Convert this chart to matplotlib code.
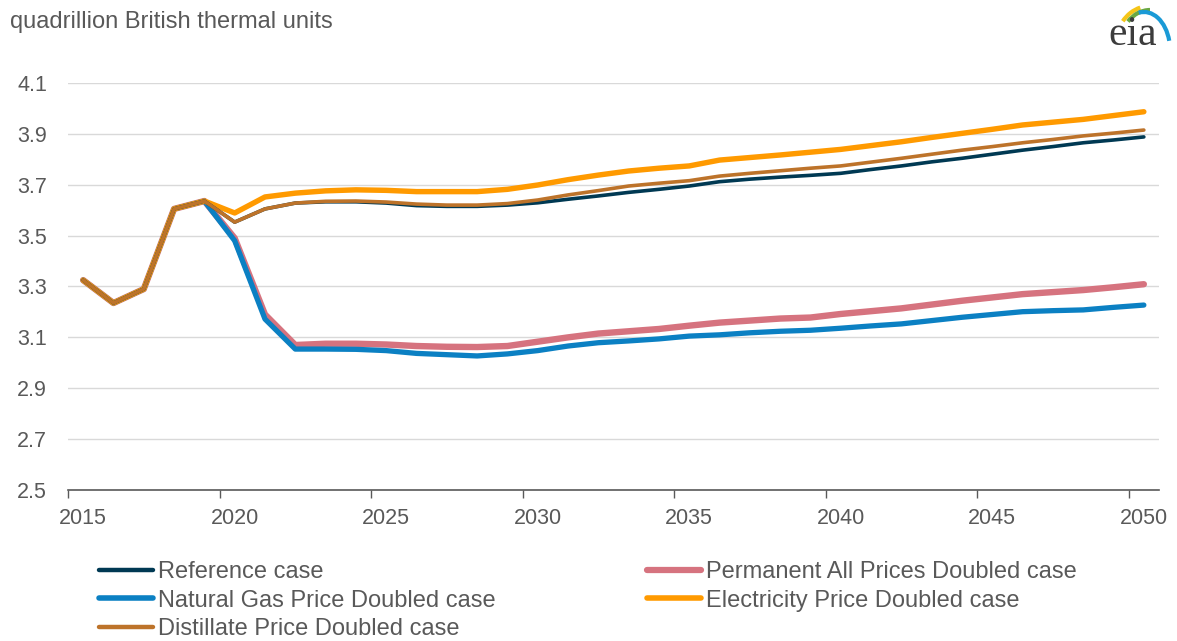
import matplotlib
matplotlib.use("Agg")
import matplotlib.pyplot as plt
from matplotlib.lines import Line2D
from matplotlib.patches import Arc
import numpy as np

plt.rcParams['font.family'] = ['Liberation Sans', 'DejaVu Sans']

years = list(range(2015, 2051))

reference = [3.325, 3.235, 3.29, 3.605, 3.636, 3.553, 3.605, 3.628, 3.633, 3.633,
             3.628, 3.618, 3.615, 3.615, 3.62, 3.629, 3.643, 3.656, 3.67, 3.682,
             3.695, 3.712, 3.722, 3.73, 3.737, 3.745, 3.76, 3.774, 3.79, 3.804,
             3.82, 3.836, 3.85, 3.865, 3.876, 3.888]
distillate = [3.325, 3.235, 3.29, 3.605, 3.636, 3.553, 3.605, 3.628, 3.635, 3.636,
              3.632, 3.624, 3.62, 3.62, 3.626, 3.64, 3.66, 3.677, 3.695, 3.706,
              3.716, 3.734, 3.745, 3.755, 3.765, 3.774, 3.789, 3.804, 3.82, 3.836,
              3.85, 3.865, 3.878, 3.892, 3.903, 3.915]
electricity = [3.325, 3.235, 3.29, 3.605, 3.636, 3.589, 3.652, 3.667, 3.676, 3.68,
               3.678, 3.673, 3.673, 3.673, 3.682, 3.699, 3.72, 3.738, 3.754, 3.765,
               3.774, 3.797, 3.807, 3.817, 3.828, 3.839, 3.854, 3.869, 3.886, 3.902,
               3.918, 3.935, 3.946, 3.957, 3.972, 3.987]
natural_gas = [3.325, 3.235, 3.29, 3.605, 3.636, 3.48, 3.172, 3.054, 3.054, 3.053,
               3.048, 3.037, 3.032, 3.027, 3.035, 3.048, 3.066, 3.079, 3.086, 3.094,
               3.105, 3.11, 3.118, 3.124, 3.128, 3.136, 3.145, 3.153, 3.166, 3.179,
               3.19, 3.201, 3.205, 3.208, 3.218, 3.227]
all_doubled = [3.325, 3.235, 3.29, 3.605, 3.636, 3.49, 3.19, 3.07, 3.075, 3.075,
               3.072, 3.066, 3.063, 3.062, 3.066, 3.083, 3.1, 3.115, 3.124, 3.133,
               3.146, 3.158, 3.166, 3.174, 3.178, 3.192, 3.203, 3.214, 3.229, 3.244,
               3.257, 3.27, 3.278, 3.286, 3.297, 3.309]

y_ticks = [2.5, 2.7, 2.9, 3.1, 3.3, 3.5, 3.7, 3.9, 4.1]
x_labels = [2015, 2020, 2025, 2030, 2035, 2040, 2045, 2050]

c_ref = '#003953'
c_ng = '#0b80c3'
c_dist = '#bd732a'
c_elec = '#ff9a00'
c_all = '#d6737f'
grey = '#595959'

fig = plt.figure(figsize=(11.77, 6.41), dpi=100)
ax = fig.add_axes([68 / 1177, 1 - 490 / 641, (1159 - 68) / 1177, (490 - 83) / 641])

ax.plot(years, all_doubled, color=c_all, lw=4.6, solid_capstyle='round', zorder=3)
ax.plot(years, natural_gas, color=c_ng, lw=3.8, solid_capstyle='round', zorder=4)
ax.plot(years, electricity, color=c_elec, lw=3.9, solid_capstyle='round', zorder=5)
ax.plot(years, reference, color=c_ref, lw=2.6, solid_capstyle='round', zorder=6)
ax.plot(years, distillate, color=c_dist, lw=2.6, solid_capstyle='round', zorder=7)

ax.set_xlim(2014.5, 2050.5)
ax.set_ylim(2.5, 4.1)
ax.set_yticks(y_ticks)
ax.set_yticklabels(['%.1f' % v for v in y_ticks])
ax.grid(axis='y', color='#d9d9d9', lw=1)
ax.set_axisbelow(True)

# category axis: ticks at category edges, labels at centres
ax.set_xticks([y - 0.5 for y in x_labels])
ax.set_xticklabels([])
ax.set_xticks(x_labels, minor=True)
ax.set_xticklabels([str(y) for y in x_labels], minor=True)
ax.tick_params(axis='x', which='major', length=6, width=1, color='#595959', direction='out')
ax.tick_params(axis='x', which='minor', length=0, pad=13, labelsize=15.5, labelcolor=grey)
ax.tick_params(axis='y', length=0, pad=15, labelsize=15.5, labelcolor=grey)

for s in ['top', 'right', 'left']:
    ax.spines[s].set_visible(False)
ax.spines['bottom'].set_color('#595959')
ax.spines['bottom'].set_linewidth(1.2)

fig.text(10 / 1177, 1 - 22 / 641, 'quadrillion British thermal units', fontsize=17,
         color=grey, va='center', ha='left')

# legend in two columns
def handle(c, lw):
    return Line2D([0], [0], color=c, lw=lw, solid_capstyle='round')

leg_kw = dict(frameon=False, fontsize=17, handlelength=2.3, handletextpad=0.2,
              labelspacing=0.28, borderpad=0, borderaxespad=0, labelcolor=grey)
leg1 = fig.legend([handle(c_ref, 3.2), handle(c_ng, 4), handle(c_dist, 3.2)],
                  ['Reference case', 'Natural Gas Price Doubled case', 'Distillate Price Doubled case'],
                  loc='upper left', bbox_to_anchor=(99 / 1177, 1 - 561 / 641), **leg_kw)
leg2 = fig.legend([handle(c_all, 4.5), handle(c_elec, 4)],
                  ['Permanent All Prices Doubled case', 'Electricity Price Doubled case'],
                  loc='upper left', bbox_to_anchor=(647 / 1177, 1 - 561 / 641), **leg_kw)

# eia logo
lax = fig.add_axes([1100 / 1177, 1 - 56 / 641, 72 / 1177, 54 / 641])
lax.set_xlim(0, 72)
lax.set_ylim(0, 54)
lax.axis('off')
lax.add_patch(Arc((50, 12), 68, 76, theta1=105, theta2=140, color='#f5c518', lw=3))
lax.add_patch(Arc((50, 10), 60, 72, theta1=90, theta2=132, color='#6aa842', lw=3))
lax.add_patch(Arc((44, 6), 52, 76, theta1=20, theta2=98, color='#1a9ad6', lw=3))
lax.text(33, 2, 'eia', fontsize=30, family=['Liberation Serif', 'DejaVu Serif'],
         color='#3c3c3c', ha='center', va='bottom')

fig.savefig('out.png', dpi=100)
